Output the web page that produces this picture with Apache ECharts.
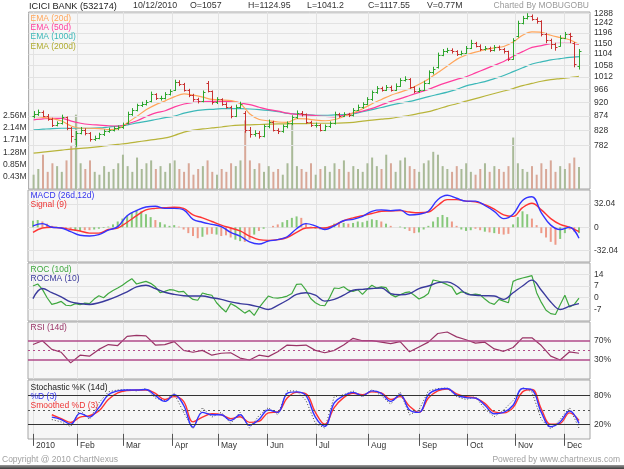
<!DOCTYPE html>
<html>
<head>
<meta charset="utf-8">
<script src="https://cdn.jsdelivr.net/npm/echarts@6/dist/echarts.min.js"></script>
<style>
  html, body { margin: 0; padding: 0; background: #fff; }
  #chart { width: 624px; height: 469px; }
</style>
</head>
<body>
<div id="chart"></div>
<script>
// one bar = two trading sessions, index 0 = first week of Jan 2010
const monthNames = ['2010', 'Feb', 'Mar', 'Apr', 'May', 'Jun', 'Jul', 'Aug', 'Sep', 'Oct', 'Nov', 'Dec']
const monthIdx = [0, 9.35, 19.1, 29.5, 39.3, 49.7, 60.1, 71.2, 82, 92.2, 102.4, 112.8]

const opens = [872, 880, 888, 875, 865, 845, 850, 870, 835, 800,
  820, 830, 820, 800, 805, 815, 825, 830, 835, 838,
  850, 880, 895, 910, 915, 925, 950, 935, 935, 950,
  965, 995, 985, 965, 945, 930, 925, 990, 960, 920,
  930, 915, 905, 875, 905, 885, 830, 815, 820, 810,
  840, 855, 830, 825, 840, 850, 870, 885, 880, 855,
  845, 845, 830, 840, 850, 880, 875, 880, 878, 895,
  905, 915, 930, 955, 970, 965, 975, 965, 980, 1000,
  1005, 975, 960, 965, 990, 1030, 1050, 1100, 1115, 1120,
  1115, 1105, 1110, 1130, 1150, 1140, 1125, 1130, 1120, 1135,
  1125, 1115, 1085, 1180, 1240, 1265, 1275, 1260, 1250, 1190,
  1165, 1145, 1140, 1175, 1190, 1150, 1057]
const closes = [880, 888, 875, 865, 845, 850, 870, 835, 810, 820,
  830, 820, 800, 805, 815, 825, 830, 835, 838, 845,
  880, 895, 910, 915, 920, 950, 935, 935, 950, 960,
  995, 985, 965, 945, 930, 925, 955, 960, 920, 930,
  915, 905, 875, 905, 915, 830, 815, 820, 810, 840,
  855, 830, 825, 840, 850, 870, 885, 880, 855, 845,
  845, 830, 840, 850, 880, 875, 880, 878, 895, 905,
  915, 930, 955, 970, 965, 975, 965, 980, 1000, 1005,
  975, 960, 965, 990, 1030, 1045, 1100, 1115, 1120, 1115,
  1105, 1110, 1130, 1150, 1140, 1125, 1130, 1120, 1135, 1125,
  1115, 1085, 1165, 1240, 1265, 1275, 1260, 1250, 1190, 1165,
  1145, 1135, 1175, 1190, 1180, 1065, 1117.55]
const highs = [890, 895, 892, 880, 868, 856, 878, 872, 838, 826,
  838, 834, 822, 811, 820, 830, 836, 840, 843, 852,
  888, 900, 915, 922, 928, 958, 952, 943, 956, 966,
  1002, 1000, 990, 968, 950, 936, 962, 997, 962, 938,
  934, 920, 908, 912, 922, 890, 838, 828, 825, 846,
  862, 858, 834, 846, 856, 876, 892, 890, 882, 858,
  852, 848, 846, 856, 888, 884, 886, 884, 900, 912,
  920, 938, 962, 978, 976, 982, 980, 988, 1008, 1015,
  1008, 978, 972, 998, 1038, 1052, 1110, 1125, 1130, 1128,
  1120, 1118, 1138, 1165, 1156, 1145, 1138, 1135, 1142, 1140,
  1130, 1118, 1172, 1252, 1275, 1288, 1282, 1268, 1254, 1196,
  1170, 1152, 1185, 1200, 1196, 1155, 1124.95]
const lows = [866, 874, 870, 858, 838, 840, 846, 828, 790, 778,
  815, 812, 793, 795, 800, 810, 820, 824, 828, 832,
  846, 874, 889, 904, 909, 920, 928, 926, 930, 944,
  960, 978, 958, 938, 922, 916, 920, 955, 912, 914,
  908, 898, 866, 870, 898, 820, 805, 808, 802, 806,
  834, 824, 816, 820, 834, 844, 864, 872, 848, 838,
  836, 824, 825, 835, 846, 868, 870, 870, 872, 890,
  898, 910, 925, 950, 958, 960, 958, 960, 975, 995,
  968, 952, 954, 960, 985, 1022, 1045, 1095, 1108, 1106,
  1096, 1098, 1105, 1125, 1132, 1116, 1118, 1112, 1115, 1118,
  1106, 1075, 1080, 1175, 1235, 1258, 1252, 1238, 1180, 1150,
  1125, 1118, 1135, 1168, 1150, 1050, 1041.2]
// volume in millions
const volumes = [0.5, 0.7, 1.2, 0.6, 0.9, 0.8, 0.6, 1.0, 1.5, 2.6,
  0.9, 0.7, 1.0, 0.6, 0.5, 0.8, 0.6, 0.7, 0.9, 1.2,
  0.8, 0.6, 1.1, 0.7, 0.9, 1.0, 0.7, 0.8, 0.6, 0.9,
  1.0, 0.7, 0.6, 0.9, 0.5, 0.7, 0.8, 1.0, 0.6, 0.5,
  0.7, 0.6, 0.9, 0.8, 1.0, 2.4, 1.0, 0.7, 0.9, 0.6,
  0.8, 0.6, 0.7, 0.5, 0.9, 2.3, 0.8, 0.7, 0.6, 0.9,
  0.5, 0.7, 0.8, 0.6, 0.9, 0.7, 1.0, 0.6, 0.8, 0.7,
  0.6, 0.9, 1.1, 0.8, 0.7, 1.2, 0.9, 0.6, 1.0, 1.1,
  0.8, 0.7, 0.6, 0.9, 1.0, 1.3, 1.2, 0.8, 0.7, 0.6,
  0.8, 0.7, 0.9, 0.6, 0.5, 0.7, 0.9, 0.6, 0.8, 0.7,
  0.6, 0.8, 1.8, 0.9, 0.7, 0.6, 0.8, 0.5, 0.9, 0.7,
  1.0, 0.6, 0.8, 0.7, 0.9, 1.1, 0.77]
const macdHist = [9, 10, 8, 5, 2, 1, -1, -3, -4, -5,
  -5, -4, -4, -3, -2, -1, 1, 4, 8, 12,
  16, 20, 24, 22, 18, 14, 10, 7, 4, 2,
  3, 1, -3, -8, -12, -15, -13, -10, -9, -10,
  -12, -11, -14, -17, -19, -20, -17, -10, -5, -2,
  0, 2, 4, 7, 10, 13, 15, 13, 6, 1,
  -2, -3, -2, 1, 5, 7, 6, 5, 6, 8,
  7, 9, 11, 10, 8, 5, 2, 0, 1, -2,
  -5, -8, -7, -3, 2, 8, 14, 17, 14, 8,
  2, -3, -5, -4, -2, -4, -6, -7, -8, -9,
  -10, -9, 4, 14, 22, 18, 12, 3, -8, -14,
  -20, -24, -16, -8, -3, -6, -8]
const roc = [7, 8.2, 5, 0, -4, -3.2, -2.2, -4.5, -4.8, -3.5,
  -4.2, -3.2, -3.5, -0.8, 1.2, 0, 2.5, 4.3, 5.8, 7.5,
  9.5, 11.4, 8.2, 9, 9.8, 8.6, 6.5, 3, 3.8, 4.8,
  4.5, 3.5, 3.8, 1, -1, -1.5, 2.8, 2, 1.5, -3,
  -6, -8.5, -3.5, -5, -7, -9.2, -7.5, -10.5, -6, -2.5,
  1, 0, -0.2, 0.2, 1, 2.5, 8, 8.2, 4.5, -0.5,
  -3, -4.5, -4.8, 0, 5.8, 5.5, 6.6, 4.5, 3.8, 4.8,
  2, 5, 7.5, 5.8, 6.5, 6, 2, 0.5, 1.8, 3,
  3.5, 1.5, -0.8, 0.5, 2.5, 10.6, 10, 9, 7.8, 6.5,
  2, 3.5, 3, 1.8, 2.2, 1.8, -0.8, -3, -4, -1,
  -2, -3, 9.8, 11, 11.8, 12.5, 13.2, 3, -2.8, -7.5,
  -9.5, -10, -4.2, 1.5, -5.5, -4, -0.2]

// smoother indicator lines, one value every second bar
const ema20 = [872, 869, 865, 857, 841, 834, 834, 833, 830, 833, 852, 873, 895, 912, 925, 940, 950, 945, 938, 930,
  928, 926, 915, 880, 862, 858, 854, 853, 865, 864, 860, 858, 862, 872, 884, 898, 915, 930, 945, 956,
  968, 985, 1005, 1030, 1055, 1082, 1100, 1112, 1122, 1130, 1136, 1155, 1185, 1200, 1198, 1185, 1175, 1165, 1145]
const ema50 = [861, 864, 866, 866, 857, 850, 846, 844, 842, 841, 848, 858, 872, 884, 891, 904, 914, 920, 922, 923,
  923, 923, 918, 912, 903, 895, 890, 883, 879, 877, 875, 872, 871, 876, 883, 890, 899, 911, 923, 933,
  944, 955, 966, 980, 992, 1003, 1013, 1028, 1043, 1058, 1073, 1095, 1114, 1132, 1140, 1148, 1150, 1150, 1145]
const ema100 = [829, 831, 833, 834, 834, 834, 834, 835, 838, 841, 845, 851, 856, 862, 868, 873, 883, 890, 894, 896,
  898, 898, 898, 897, 895, 892, 888, 882, 880, 878, 876, 876, 877, 878, 881, 888, 895, 902, 910, 917,
  923, 931, 940, 948, 956, 966, 979, 987, 995, 1006, 1018, 1033, 1048, 1063, 1072, 1080, 1085, 1090, 1093]
const ema200 = [759, 762, 765, 768, 771, 773, 775, 778, 782, 785, 788, 792, 796, 800, 804, 812, 822, 828, 832, 835,
  838, 842, 844, 845, 846, 847, 848, 848, 849, 849, 850, 850, 850, 851, 853, 857, 860, 863, 866, 871,
  876, 882, 888, 897, 907, 915, 924, 933, 942, 951, 960, 969, 980, 988, 996, 1002, 1006, 1010, 1015]
const macd = [2, 5, 0, -1, -6, -11, -12, -10, -4, 1, 16, 23, 28, 29, 26, 26, 24, 11, 7, 4,
  1, -7, -12, -20, -23, -19, -17, -13, -2, 5, 2, -3, 2, 9, 11, 15, 22, 24, 23, 24,
  17, 18, 22, 38, 44, 40, 36, 36, 30, 22, 12, 18, 37, 42, 20, 3, -3, 0, -15]
const signal = [-7, -1, 0, -1, -3, -5, -8, -8, -3, -1, 7, 16, 24, 26, 27, 27.5, 26, 17, 13, 8,
  3, -1, -5, -12, -17, -18, -17, -14, -7, -1, -0.5, -1, 3, 9, 13, 16, 19, 22, 22.5, 23,
  21, 20, 21, 30, 38, 38, 36, 35, 31, 25, 17, 15, 27, 33, 24, 12, 4, 0, -6]
const rocma = [-0.5, 5.5, 3, 0.5, -2.5, -3.5, -4, -3, -1.2, 1, 3.5, 6.5, 7.5, 5.5, 3.3, 2, 1.2, 1, 1, 0,
  -1, -2.5, -3.5, -4.2, -5.5, -7, -4.5, -1.5, 2, 3, 1.5, -2, -1, 1.5, 4.5, 5, 5.5, 5.8, 2.5, 1.8,
  2.5, 5.5, 7, 9, 9.5, 7, 2.5, 1.5, 1.2, 1, -1, 3, 7, 10.5, 4.5, -2.5, -7, -5, -3.5]
const rsi = [62, 70, 52, 46, 24, 40, 38, 52, 62, 60, 79, 81, 80, 61, 62, 68, 50, 46, 50, 40,
  44, 45, 34, 30, 40, 37, 47, 61, 60, 61, 50, 45, 50, 61, 75, 70, 70, 67, 64, 68,
  47, 57, 67, 85, 88, 78, 72, 65, 67, 53, 48, 56, 76, 76, 60, 38, 30, 47, 44]
const stochK = [null, null, 30, 25, 15, 50, 30, 65, 88, 92, 93, 90, 95, 75, 70, 85, 45, 10, 55, 35,
  45, 22, 45, 12, 38, 55, 40, 90, 90, 70, 22, 12, 78, 82, 90, 78, 93, 80, 62, 88,
  40, 50, 90, 95, 96, 78, 72, 78, 52, 36, 50, 70, 97, 88, 30, 10, 30, 55, 12]
const stochD = [null, null, 35, 30, 20, 43, 35, 55, 82, 90, 92, 92, 93, 80, 68, 82, 60, 14, 45, 40,
  40, 28, 40, 18, 30, 50, 45, 85, 88, 80, 35, 16, 65, 80, 87, 80, 90, 85, 68, 82,
  50, 45, 82, 93, 95, 81, 76, 75, 60, 42, 45, 60, 95, 92, 45, 15, 25, 48, 22]
const stochSD = [null, null, 40, 32, 24, 35, 38, 48, 72, 86, 91, 92, 92, 85, 72, 78, 68, 25, 35, 42,
  40, 32, 36, 24, 26, 44, 46, 75, 87, 84, 45, 20, 55, 76, 85, 82, 88, 86, 72, 78,
  58, 45, 75, 90, 94, 84, 78, 75, 64, 46, 44, 55, 88, 93, 52, 20, 22, 44, 28]

const priceTicks = [782, 828, 874, 920, 966, 1012, 1058, 1104, 1150, 1196, 1242, 1288]
const volTicks = [0.43, 0.85, 1.28, 1.71, 2.14, 2.56]

const UP = '#2ca52c'
const DOWN = '#c83030'
const FONT = 'Liberation Sans'
const isUp = i => closes[i] >= opens[i]

const chart = echarts.init(document.getElementById('chart'))

const pair = arr => arr.map((v, j) => [j * 2, v])
const daily = arr => arr.map((v, i) => [i, v])
const bars = closes.map((c, i) => [i, opens[i], c, lows[i], highs[i]])

function renderOhlc (params, api) {
  const x = api.value(0)
  const o = api.coord([x, api.value(1)])
  const c = api.coord([x, api.value(2)])
  const l = api.coord([x, api.value(3)])
  const h = api.coord([x, api.value(4)])
  const px = Math.round(h[0]) + 0.5
  const style = { stroke: api.value(2) >= api.value(1) ? UP : DOWN, lineWidth: 1 }
  return {
    type: 'group',
    children: [
      { type: 'line', shape: { x1: px, y1: h[1], x2: px, y2: l[1] }, style },
      { type: 'line', shape: { x1: px - 2, y1: Math.round(o[1]) + 0.5, x2: px, y2: Math.round(o[1]) + 0.5 }, style },
      { type: 'line', shape: { x1: px, y1: Math.round(c[1]) + 0.5, x2: px + 2, y2: Math.round(c[1]) + 0.5 }, style }
    ]
  }
}

const gridBase = { left: 28, width: 562, show: true, backgroundColor: '#f6f6f6', borderColor: '#a6a6a6', borderWidth: 1 }
const grids = [
  { ...gridBase, top: 12, height: 177 },
  { ...gridBase, top: 190, height: 72 },
  { ...gridBase, top: 263, height: 58 },
  { ...gridBase, top: 322, height: 57 },
  { ...gridBase, top: 380, height: 59 }
]

const xAxes = grids.map((g, i) => ({
  type: 'value',
  gridIndex: i,
  min: -1.06,
  max: 118.34,
  axisLine: { show: false },
  axisTick: {
    show: i === 4,
    customValues: monthIdx,
    length: 12,
    lineStyle: { color: '#555' }
  },
  axisLabel: {
    show: i === 4,
    customValues: monthIdx,
    align: 'left',
    margin: 2,
    padding: [0, 0, 0, 3],
    fontFamily: FONT,
    fontSize: 8.5,
    color: '#333',
    formatter: v => monthNames[monthIdx.findIndex(m => Math.abs(m - v) < 0.01)]
  },
  splitLine: { show: true, lineStyle: { color: '#e2e2e2', width: 1 } }
}))

const rightLabel = { fontFamily: FONT, fontSize: 8.5, color: '#333', margin: 4 }
const yAxes = [
  { type: 'log', gridIndex: 0, min: 663, max: 1294, position: 'right', axisLine: { show: false }, axisTick: { show: false }, axisLabel: { show: false }, splitLine: { show: false } },
  { type: 'value', gridIndex: 0, min: 0, max: 6.19, position: 'left', axisLine: { show: false }, axisTick: { show: false },
    axisLabel: { customValues: volTicks, fontFamily: FONT, fontSize: 8.5, color: '#333', margin: 2, formatter: v => v.toFixed(2) + 'M' },
    splitLine: { show: false } },
  { type: 'value', gridIndex: 1, min: -47.7, max: 51.3, position: 'right', axisLine: { show: false },
    axisTick: { show: false, customValues: [-32.04, 0, 32.04] },
    axisLabel: { ...rightLabel, customValues: [-32.04, 0, 32.04] },
    splitLine: { lineStyle: { color: '#e2e2e2' } } },
  { type: 'value', gridIndex: 2, min: -13.9, max: 20.75, position: 'right', axisLine: { show: false },
    axisTick: { show: false, customValues: [-7, 0, 7, 14] },
    axisLabel: { ...rightLabel, customValues: [-7, 0, 7, 14] },
    splitLine: { lineStyle: { color: '#e2e2e2' } } },
  { type: 'value', gridIndex: 3, min: -9.4, max: 108.8, position: 'right', axisLine: { show: false },
    axisTick: { show: false, customValues: [30, 70] },
    axisLabel: { ...rightLabel, customValues: [30, 70], formatter: '{value}%' },
    splitLine: { show: false } },
  { type: 'value', gridIndex: 4, min: -10.8, max: 112.9, position: 'right', axisLine: { show: false },
    axisTick: { show: false, customValues: [20, 80] },
    axisLabel: { ...rightLabel, customValues: [20, 80], formatter: '{value}%' },
    splitLine: { show: false } }
]

const line = (name, data, color, xi, yi, extra) => ({
  name,
  type: 'line',
  xAxisIndex: xi,
  yAxisIndex: yi,
  data: pair(data),
  showSymbol: false,
  smooth: 0.3,
  lineStyle: { color, width: 1.2 },
  itemStyle: { color },
  silent: true,
  animation: false,
  ...extra
})

const hLines = (values, color, type, width) => values.map(v => ({
  yAxis: v, lineStyle: { color, type, width }
}))

const series = [
  {
    name: 'grid',
    type: 'line',
    xAxisIndex: 0,
    yAxisIndex: 0,
    data: [],
    z: 0,
    silent: true,
    markLine: {
      silent: true,
      symbol: 'none',
      animation: false,
      data: priceTicks.map(v => ({ yAxis: v })),
      lineStyle: { color: '#e2e2e2', type: 'solid', width: 1 },
      label: { show: true, position: 'end', distance: 4, formatter: p => String(p.value), fontFamily: FONT, fontSize: 8.5, color: '#333' }
    }
  },
  {
    name: 'Volume',
    type: 'bar',
    xAxisIndex: 0,
    yAxisIndex: 1,
    barWidth: 2,
    data: daily(volumes),
    itemStyle: { color: p => isUp(p.dataIndex) ? '#a9ba98' : '#d8a898' },
    silent: true,
    animation: false
  },
  line('EMA (200d)', ema200, '#b8b43a', 0, 0),
  line('EMA (100d)', ema100, '#3cb8b8', 0, 0),
  line('EMA (50d)', ema50, '#ff3d9e', 0, 0),
  line('EMA (20d)', ema20, '#ffa55a', 0, 0),
  {
    name: 'Price',
    type: 'custom',
    xAxisIndex: 0,
    yAxisIndex: 0,
    renderItem: renderOhlc,
    encode: { x: 0, y: [1, 2, 3, 4] },
    data: bars,
    silent: true,
    animation: false,
    z: 5
  },
  {
    name: 'Histogram',
    type: 'bar',
    xAxisIndex: 1,
    yAxisIndex: 2,
    barWidth: 2,
    data: daily(macdHist),
    itemStyle: { color: p => isUp(p.dataIndex) ? '#86c87a' : '#ee9a88' },
    silent: true,
    animation: false
  },
  line('Signal (9)', signal, '#ff3333', 1, 2, { smooth: 0.4, lineStyle: { color: '#ff3333', width: 1.4 } }),
  line('MACD (26d,12d)', macd, '#3333ff', 1, 2, { smooth: 0.4, lineStyle: { color: '#3333ff', width: 1.4 } }),
  line('ROC (10d)', [], '#3fa83f', 2, 3, { data: daily(roc), smooth: false, lineStyle: { color: '#3fa83f', width: 1.2 } }),
  line('ROCMA (10)', rocma, '#3a3a9c', 2, 3, { smooth: 0.4, lineStyle: { color: '#3a3a9c', width: 1.4 } }),
  line('RSI (14d)', rsi, '#993366', 3, 4, {
    smooth: false,
    markLine: {
      silent: true,
      symbol: 'none',
      animation: false,
      label: { show: false },
      data: [...hLines([70, 30], '#b04a8a', 'solid', 1.5), ...hLines([50], '#b04a8a', [2, 3], 1)]
    }
  }),
  line('Stochastic %K (14d)', stochK, '#444', 4, 5, {
    smooth: false,
    lineStyle: { color: '#444', width: 1, type: [1, 2] },
    markLine: {
      silent: true,
      symbol: 'none',
      animation: false,
      label: { show: false },
      data: [...hLines([80, 20], '#333', 'solid', 1.2), ...hLines([50], '#555', [2, 3], 1)]
    }
  }),
  line('Smoothed %D (3)', stochSD, '#ff3333', 4, 5, { smooth: 0.4, lineStyle: { color: '#ff3333', width: 1.4 } }),
  line('%D (3)', stochD, '#3333ff', 4, 5, { smooth: 0.4, lineStyle: { color: '#3333ff', width: 1.4 } })
]

const txt = (text, x, y, color, size, extra) => ({
  type: 'text',
  x,
  y,
  silent: true,
  z: 100,
  style: { text, fill: color, font: `${size || 8.5}px "${FONT}"`, textVerticalAlign: 'middle', ...extra }
})

const graphic = [
  txt('ICICI BANK (532174)', 29, 6, '#222', 9.2),
  txt('10/12/2010', 133, 6, '#333', 8.8),
  txt('O=1057', 190, 6, '#333', 8.8),
  txt('H=1124.95', 248, 6, '#333', 8.8),
  txt('L=1041.2', 307, 6, '#333', 8.8),
  txt('C=1117.55', 368, 6, '#333', 8.8),
  txt('V=0.77M', 427, 6, '#333', 8.8),
  txt('Charted By MOBUGOBU', 589, 6, '#9a9a9a', 8.5, { textAlign: 'right' }),
  txt('EMA (20d)', 30.5, 18.5, '#ffa55a'),
  txt('EMA (50d)', 30.5, 27.8, '#ff3d9e'),
  txt('EMA (100d)', 30.5, 37, '#3cb8b8'),
  txt('EMA (200d)', 30.5, 46.5, '#b0ac30'),
  txt('MACD (26d,12d)', 30.5, 196, '#3333ee'),
  txt('Signal (9)', 30.5, 205, '#ee3333'),
  txt('ROC (10d)', 30.5, 269.5, '#3fa83f'),
  txt('ROCMA (10)', 30.5, 279, '#3a3a9c'),
  txt('RSI (14d)', 30.5, 327.7, '#993366'),
  txt('Stochastic %K (14d)', 30.5, 387.3, '#222'),
  txt('%D (3)', 30.5, 396.7, '#3333ee'),
  txt('Smoothed %D (3)', 30.5, 406, '#ee3333'),
  txt('Copyright @ 2010 ChartNexus', 2, 460, '#a0a0a0'),
  txt('Powered by www.chartnexus.com', 620, 460, '#a0a0a0', 8.5, { textAlign: 'right' }),
  {
    type: 'rect',
    silent: true,
    shape: { x: 0, y: 465, width: 624, height: 4 },
    style: { fill: new echarts.graphic.LinearGradient(0, 0, 0, 1, [{ offset: 0, color: '#9a9a9a' }, { offset: 1, color: '#3a3a3a' }]) }
  }
]

chart.setOption({
  animation: false,
  backgroundColor: '#fff',
  grid: grids,
  xAxis: xAxes,
  yAxis: yAxes,
  series,
  graphic
})
</script>
</body>
</html>
